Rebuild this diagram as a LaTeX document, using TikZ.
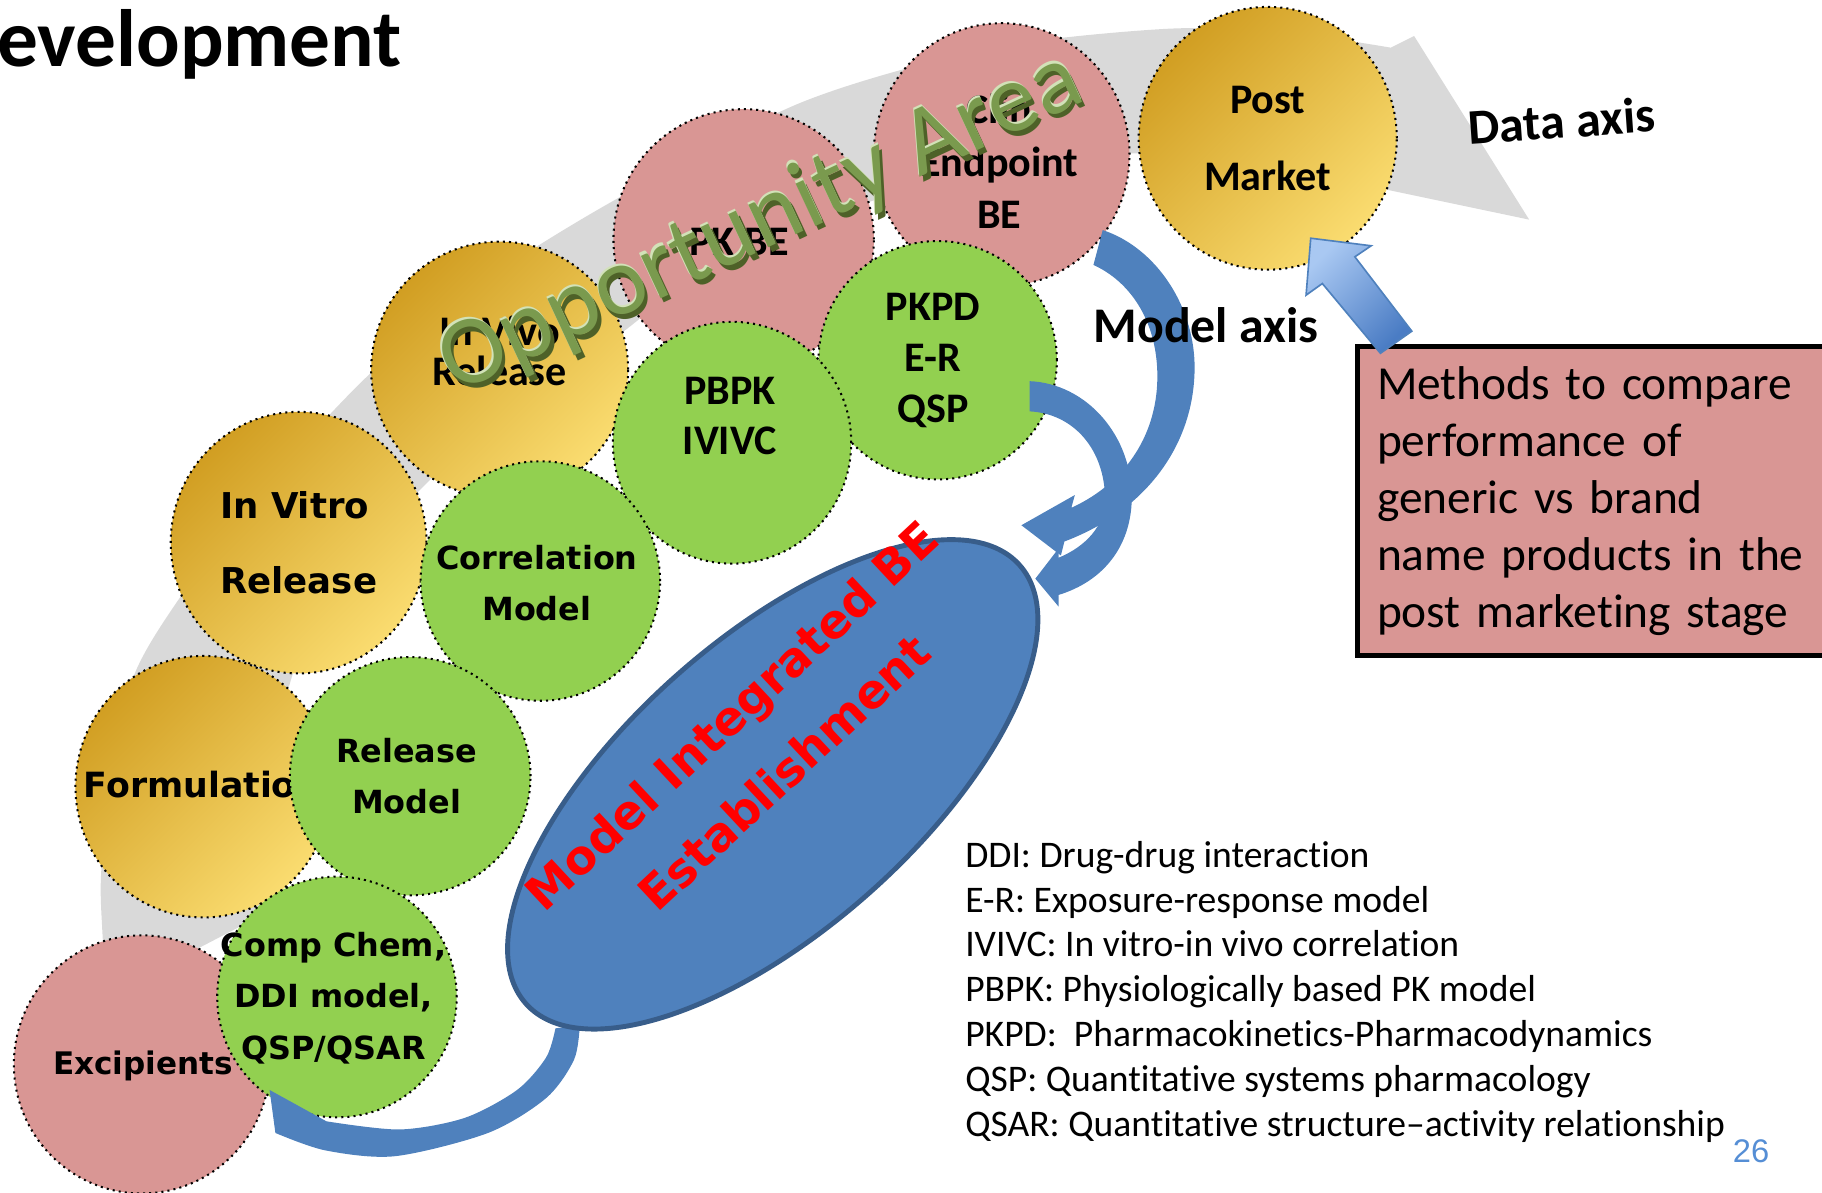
\documentclass[tikz,border=0pt]{standalone}
\usepackage{fontspec}
\setmainfont{Carlito}[Ligatures=NoCommon]
\newfontfamily\vfont{DejaVu Sans}
\newfontfamily\afont{Liberation Sans}
\usetikzlibrary{shapes.geometric}
\definecolor{pinkfill}{HTML}{D99694}
\definecolor{golddark}{HTML}{D19E22}
\definecolor{goldlight}{HTML}{FADC70}
\definecolor{greenfill}{HTML}{92D050}
\definecolor{bluefill}{HTML}{4F81BD}
\definecolor{blueborder}{HTML}{385D8A}
\definecolor{grayband}{HTML}{D9D9D9}
\definecolor{redtext}{HTML}{FF0000}
\definecolor{lbluelight}{HTML}{A9C8F2}
\definecolor{lbluedark}{HTML}{4A7CC4}
\definecolor{oppgreen}{HTML}{7A9A4E}
\definecolor{oppdark}{HTML}{4E6128}
\definecolor{opplight}{HTML}{D2E2B8}
\definecolor{numblue}{HTML}{558ED5}
\begin{document}
\begin{tikzpicture}[x=0.01cm,y=-0.01cm,
  circ/.style={ellipse, inner sep=0pt, draw=black, densely dotted, line width=0.5pt},
  goldcirc/.style={circ, top color=golddark, bottom color=goldlight, shading angle=45},
  pinkcirc/.style={circ, fill=pinkfill},
  greencirc/.style={circ, fill=greenfill},
  lblc/.style={font=\bfseries\fontsize{10.3}{#1}\selectfont, align=center, inner sep=0pt},
  lblc/.default=12.5,
  lblv/.style={font=\vfont\bfseries\fontsize{#1}{12.5}\selectfont, align=center, inner sep=0pt},
  lblv/.default=7.8,
  axislbl/.style={font=\bfseries\fontsize{12.2}{14}\selectfont, inner sep=0pt},
  opptext/.style={rotate=25, font=\fontsize{24}{24}\selectfont, inner sep=0pt},
  bluearrow/.style={fill=bluefill}
]
\useasboundingbox (0,0) rectangle (1568,1026);

% grey data axis band
\fill[grayband] plot[smooth] coordinates {(92,857) (88,800) (87,752) (95,670) (115,582) (155,514) (220,428) (318,322) (420,240) (531,171) (690,88) (850,42) (1000,25) (1100,27) (1197,41)}
  -- (1217,31) -- (1316,189) -- (1140,152)
  -- plot[smooth] coordinates {(1140,152) (975,132) (760,170) (600,240) (530,290) (440,350) (368,415) (300,490) (252,580) (235,680) (240,780)} -- cycle;

% pink / gold circles
\node[goldcirc, minimum width=2.22cm, minimum height=2.26cm] (post) at (1091,119) {};
\node[lblc=18.8] (postlbl) at (post) {Post\\Market};
\node[pinkcirc, minimum width=2.2cm, minimum height=2.26cm] (clin) at (862,133) {};
\node[lblc=12.8] (clinlbl) at (860,139) {Clin\\Endpoint\\BE};
\node[pinkcirc, minimum width=2.24cm, minimum height=2.24cm] (pkbe) at (640,206) {};
\node[lblc] (pkbelbl) at (636,208) {PK BE};
\node[goldcirc, minimum width=2.21cm, minimum height=2.2cm] (invivo) at (430,318) {};
\node[lblc=10] (invivolbl) at (430,302) {In Vivo\\Release};
\node[goldcirc, minimum width=2.2cm, minimum height=2.25cm] (invitro) at (257,467) {};
\node[font=\vfont\bfseries\fontsize{8.7}{18.5}\selectfont, align=left, inner sep=0pt] (invitrolbl) at (257,467) {In Vitro\\Release};
\node[goldcirc, minimum width=2.2cm, minimum height=2.25cm] (formul) at (175,677) {};
\node[lblv=8.5] (formullbl) at (174,675) {Formulation};
\node[pinkcirc, minimum width=2.2cm, minimum height=2.22cm] (excip) at (122,916) {};

% green circles
\node[greencirc, minimum width=2.05cm, minimum height=2.05cm] (pkpd) at (807,310) {};
\node[lblc] (pkpdlbl) at (803,310) {PKPD\\E-R\\QSP};
\node[greencirc, minimum width=2.05cm, minimum height=2.08cm] (pbpk) at (630,381) {};
\node[lblc=12.2] (pbpklbl) at (628,358) {PBPK\\IVIVC};
\node[greencirc, minimum width=2.06cm, minimum height=2.06cm] (corr) at (465,500) {};
\node[lblv] (corrlbl) at (462,502) {Correlation\\Model};
\node[greencirc, minimum width=2.07cm, minimum height=2.05cm] (relm) at (353,668) {};
\node[lblv] (relmlbl) at (350,668) {Release\\Model};
\node[greencirc, minimum width=2.06cm, minimum height=2.07cm] (comp) at (290,858) {};
\node[lblv] (complbl) at (287,859) {Comp Chem,\\DDI model,\\QSP/QSAR};
\node[lblv=7.6] (exciplbl) at (123,917) {Excipients};

% blue curved arrows
\fill[bluearrow] (886,328) .. controls (935,330) and (975,375) .. (974,430)
  .. controls (973,470) and (950,500) .. (911,512) -- (911,522) -- (891,498) -- (911,472) -- (911,480)
  .. controls (935,470) and (951,452) .. (951,430) .. controls (951,388) and (925,356) .. (886,354) -- cycle;
\fill[bluearrow] (949,198) .. controls (995,213) and (1030,265) .. (1028,321)
  .. controls (1026,385) and (985,440) .. (916,466) -- (913,478) -- (879,452) -- (925,426) -- (922,437)
  .. controls (970,415) and (997,372) .. (996,321) .. controls (995,275) and (972,242) .. (941,228) -- cycle;
\fill[bluearrow] plot[smooth] coordinates {(499,882) (494,912) (470,945) (420,975) (340,995) (280,990) (237,975)}
  -- (232,938) -- (281,965)
  -- plot[smooth] coordinates {(281,965) (344,972) (400,962) (445,938) (470,910) (478,885)} -- cycle;

% central ellipse
\node[ellipse, fill=bluefill, draw=blueborder, line width=1.2pt, minimum width=5.68cm, minimum height=2.5cm, rotate=41.6, inner sep=0pt] (mibe) at (665,675) {};
\node[rotate=43, font=\vfont\bfseries\fontsize{11.5}{19}\selectfont, text=redtext, align=center, inner sep=0pt] (mibelbl) at (652,640) {Model Integrated BE\\Establishment};

% opportunity area
\node[opptext, text=oppdark] (oppshadow) at (658,196) {Opportunity Area};
\node[opptext, text=opplight] (opphigh) at (654,190) {Opportunity Area};
\node[opptext, text=oppgreen] (opp) at (655,192) {Opportunity Area};

% methods box
\node[draw=black, line width=1.2pt, fill=pinkfill, anchor=north west, minimum width=4.3cm, minimum height=2.66cm, text width=4.0cm, inner xsep=0.17cm, align=left, font=\fontsize{11.6}{14}\selectfont] (methods) at (1166,296) {Methods to compare\\performance of\\generic vs brand\\name products in the\\post marketing stage};

% light blue arrow
\draw[draw=bluefill, line width=0.4pt, top color=lbluelight, bottom color=lbluedark, shading angle=45] (1188,304) -- (1215,285) -- (1166,221) -- (1180,211.5) -- (1128,205) -- (1124,254) -- (1138,244) -- cycle;

% axis labels
\node[axislbl, rotate=4] (dataaxis) at (1344,104) {Data axis};
\node[axislbl] (modelaxis) at (1038,280) {Model axis};

% title
\node[anchor=base west, inner sep=0pt, font=\bfseries\fontsize{19.9}{20}\selectfont] (title) at (-3,57) {evelopment};

% legend
\node[anchor=north west, align=left, inner sep=0pt, font=\fontsize{9.2}{11}\selectfont] (legend) at (830,723) {DDI: Drug-drug interaction\\E-R: Exposure-response model\\IVIVC: In vitro-in vivo correlation\\PBPK: Physiologically based PK model\\PKPD:\ \ Pharmacokinetics-Pharmacodynamics\\QSP: Quantitative systems pharmacology\\QSAR: Quantitative structure--activity relationship};
\node[font=\afont\fontsize{8}{8}\selectfont, text=numblue, inner sep=0pt] (pagenum) at (1507,991) {26};
\end{tikzpicture}
\end{document}
